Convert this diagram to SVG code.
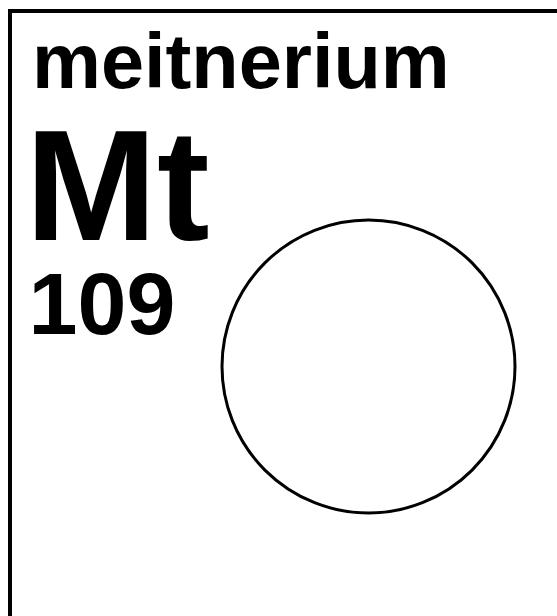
<svg xmlns="http://www.w3.org/2000/svg" width="557" height="616" viewBox="0 0 557 616">
<style>
.t{font-family:"Liberation Sans",Arial,sans-serif;font-weight:bold;fill:#000}
</style>
<rect width="557" height="616" fill="#fff"/>
<g id="border"><rect x="10" y="11" width="600" height="650" fill="none" stroke="#000" stroke-width="4"/></g>
<g id="name"><text class="t" x="32" y="88" font-size="77.5">meitnerium</text></g>
<g id="symbol"><text class="t" x="25.3" y="240" font-size="158">Mt</text></g>
<g id="number"><text class="t" x="28.6" y="334" font-size="88">109</text></g>
<g id="circle"><circle cx="368.5" cy="366.5" r="146.5" fill="none" stroke="#000" stroke-width="3"/></g>
</svg>
